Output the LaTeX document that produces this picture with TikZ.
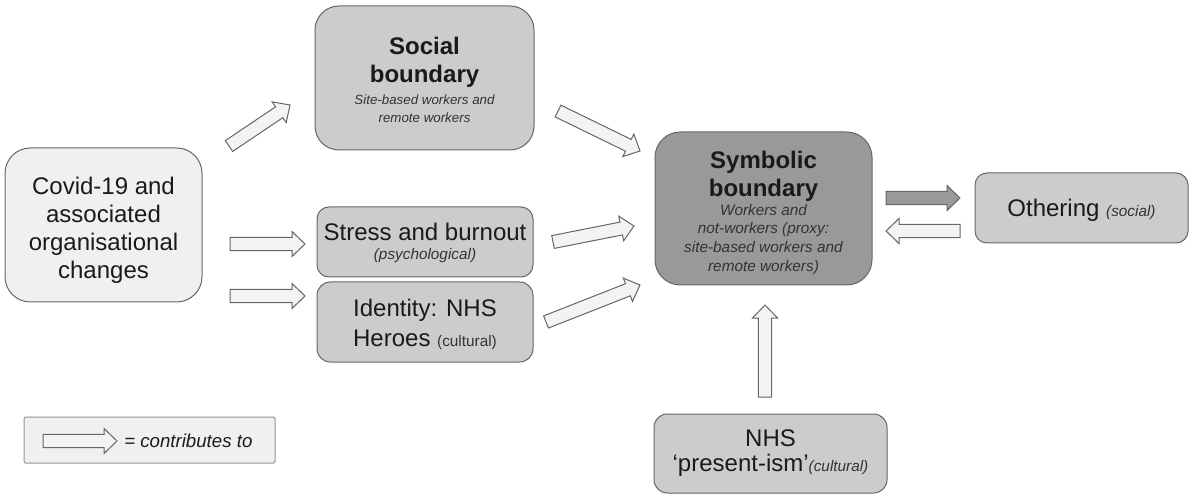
\documentclass[tikz,border=0pt]{standalone}
\usepackage{fontspec}
\setmainfont{Liberation Sans}
\usetikzlibrary{calc}
\definecolor{bordergray}{HTML}{666666}
\definecolor{lightfill}{HTML}{F0F0F0}
\definecolor{midfill}{HTML}{CCCCCC}
\definecolor{darkfill}{HTML}{999999}
\definecolor{arrowfill}{HTML}{F3F3F3}
\definecolor{textdark}{HTML}{1A1A1A}
\definecolor{subtext}{HTML}{333333}
\newcommand\subit{\fontsize{11.5}{14}\selectfont\itshape\color{subtext}}
\newcommand\subrm{\fontsize{11.5}{14}\selectfont\color{subtext}}
\newcommand\lift[1]{\rule{0pt}{#1}}
% fat outline arrow from #2 to #3
\newcommand\fatarrow[3][fatlight]{%
  \coordinate (fah) at ($(#3)!9.75pt!(#2)$);
  \draw[#1] ($(#2)!4.9pt!90:(#3)$) -- ($(fah)!4.9pt!-90:(#2)$) -- ($(fah)!9.4pt!-90:(#2)$) -- (#3)
    -- ($(fah)!9.4pt!90:(#2)$) -- ($(fah)!4.9pt!90:(#2)$) -- ($(#2)!4.9pt!-90:(#3)$) -- cycle;}
\begin{document}
\begin{tikzpicture}[x=0.75pt,y=-0.75pt,
  box/.style={draw=bordergray, line width=0.75pt, align=center, inner sep=0pt,
    text=textdark, font=\fontsize{18}{21}\selectfont},
  fatlight/.style={draw=bordergray, line width=0.75pt, fill=arrowfill, line join=miter},
  fatdark/.style={draw=bordergray, line width=0.75pt, fill=darkfill, line join=miter}]
\useasboundingbox (0,0) rectangle (1192,495);

\node[box, fill=lightfill, rounded corners=19pt, minimum width=147.75pt, minimum height=115.5pt]
  (covid) at (103.5,225) {\lift{20.5pt}Covid-19 and\\associated\\organisational\\changes};

\node[box, fill=midfill, rounded corners=18pt, minimum width=164.25pt, minimum height=108pt]
  (social) at (424.5,78) {\lift{16pt}\bfseries Social\\\bfseries boundary\\[-4.5pt]{\fontsize{10}{13.5}\selectfont\itshape\color{subtext}Site-based workers and}\\[-7.5pt]{\fontsize{10}{13.5}\selectfont\itshape\color{subtext}remote workers}};

\node[box, fill=midfill, rounded corners=9pt, minimum width=162pt, minimum height=52.5pt]
  (stress) at (425,242) {\lift{15pt}Stress and burnout\\[-6.75pt]{\subit (psychological)}};

\node[box, fill=midfill, rounded corners=10pt, minimum width=162pt, minimum height=60pt]
  (identity) at (425,322) {\lift{16pt}Identity: NHS\\[1.5pt]Heroes {\subrm (cultural)}};

\node[box, fill=darkfill, rounded corners=19pt, minimum width=162.75pt, minimum height=114.75pt]
  (symbolic) at (763.5,208.5) {\lift{19pt}\bfseries Symbolic\\\bfseries boundary\\[-6.75pt]{\subit Workers and}\\[-7pt]{\subit not-workers (proxy:}\\[-7pt]{\subit site-based workers and}\\[-7pt]{\subit remote workers)}};

\node[box, fill=midfill, rounded corners=9pt, minimum width=159.75pt, minimum height=52.5pt]
  (othering) at (1081.5,208) {\lift{17pt}Othering {\subit (social)}};

\node[box, fill=midfill, rounded corners=10pt, minimum width=174.75pt, minimum height=59.25pt]
  (nhs) at (770.5,453.5) {NHS\\[-2.25pt]‘present-ism’{\subit (cultural)}};

\node[draw=bordergray!70, line width=0.75pt, fill=lightfill, rounded corners=1pt,
  minimum width=188.25pt, minimum height=34.5pt, inner sep=0pt] (legend) at (149.5,440) {};
\node[anchor=west, inner sep=0pt, text=textdark, font=\fontsize{14}{16}\selectfont\itshape]
  (legendtext) at (124,441) {= contributes to};

% arrow end points
\coordinate (c2s-a) at (229,146);
\coordinate (c2s-b) at (290,105);
\coordinate (c2t-a) at (230,244);
\coordinate (c2t-b) at (305,244);
\coordinate (c2i-a) at (230,296);
\coordinate (c2i-b) at (305,296);
\coordinate (s2y-a) at (558,111);
\coordinate (s2y-b) at (640,151);
\coordinate (t2y-a) at (553,242);
\coordinate (t2y-b) at (634,226);
\coordinate (i2y-a) at (546,322);
\coordinate (i2y-b) at (640,285);
\coordinate (y2o-a) at (886,198);
\coordinate (y2o-b) at (960,198);
\coordinate (o2y-a) at (960,231);
\coordinate (o2y-b) at (886,231);
\coordinate (n2y-a) at (765,397);
\coordinate (n2y-b) at (765,305);
\coordinate (leg-a) at (43,441);
\coordinate (leg-b) at (117,441);

\fatarrow{c2s-a}{c2s-b}
\fatarrow{c2t-a}{c2t-b}
\fatarrow{c2i-a}{c2i-b}
\fatarrow{s2y-a}{s2y-b}
\fatarrow{t2y-a}{t2y-b}
\fatarrow{i2y-a}{i2y-b}
\fatarrow[fatdark]{y2o-a}{y2o-b}
\fatarrow{o2y-a}{o2y-b}
\fatarrow{n2y-a}{n2y-b}
\fatarrow{leg-a}{leg-b}
\end{tikzpicture}
\end{document}
